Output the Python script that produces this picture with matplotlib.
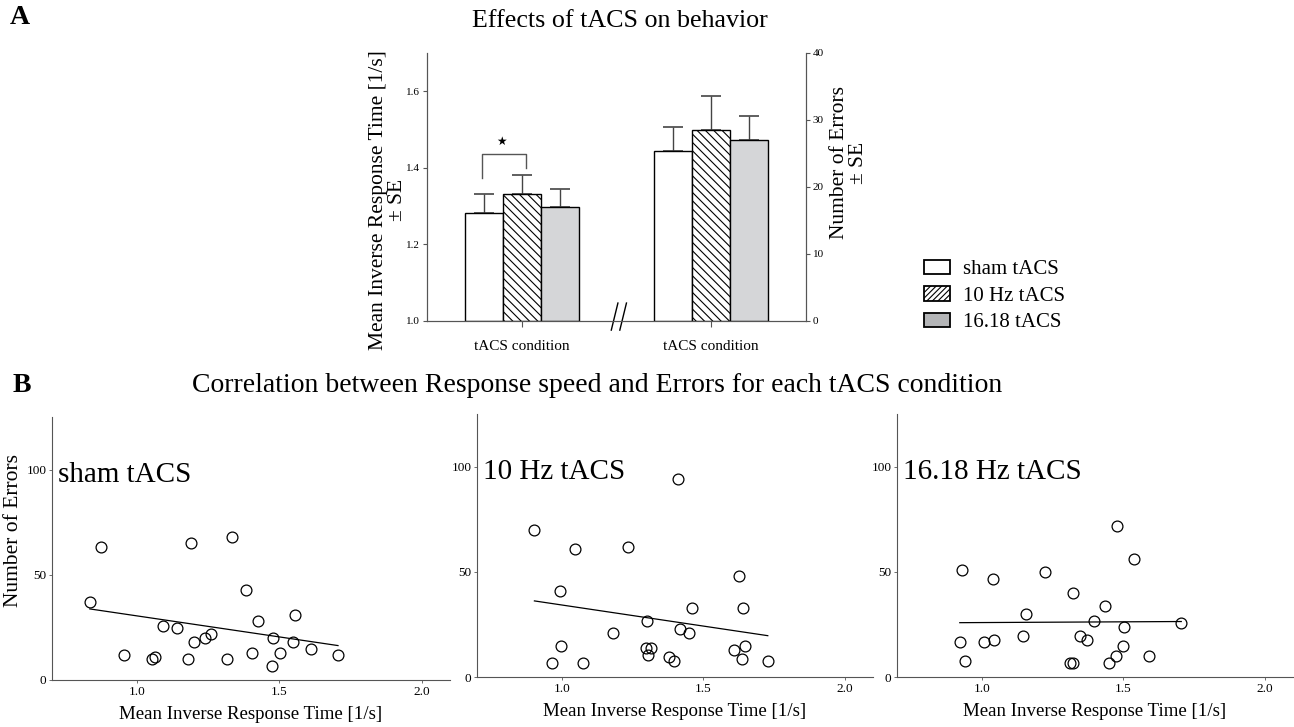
import numpy as np
import matplotlib.pyplot as plt
from matplotlib.patches import Patch

plt.rcParams['font.family'] = ['Liberation Serif', 'DejaVu Serif']
plt.rcParams['hatch.linewidth'] = 0.8

# panel A data
conditions = ['sham tACS', '10 Hz tACS', '16.18 tACS']
rt_mean = [1.283, 1.331, 1.299]
rt_se = [0.048, 0.051, 0.046]
err_mean = [25.3, 28.5, 27.0]
err_se = [3.7, 5.1, 3.6]
group_labels = ['tACS condition', 'tACS condition']

# panel B data: mean inverse RT vs number of errors
sham_x = [0.833, 0.871, 0.952, 1.053, 1.061, 1.089, 1.141, 1.178, 1.189, 1.201, 1.239, 1.261,
          1.314, 1.334, 1.384, 1.402, 1.424, 1.475, 1.478, 1.502, 1.549, 1.556, 1.610, 1.706]
sham_y = [37.0, 63.2, 11.9, 9.8, 11.0, 25.9, 24.9, 9.8, 65.1, 17.9, 20.0, 21.7,
          9.8, 68.1, 43.0, 12.9, 27.9, 6.8, 19.8, 12.9, 17.9, 31.0, 14.9, 11.9]
hz10_x = [0.903, 0.965, 0.995, 0.998, 1.047, 1.076, 1.182, 1.234, 1.296, 1.300, 1.303, 1.314,
          1.379, 1.396, 1.409, 1.417, 1.451, 1.460, 1.609, 1.625, 1.638, 1.641, 1.647, 1.728]
hz10_y = [70.0, 6.7, 41.0, 14.8, 61.0, 6.7, 20.8, 61.9, 13.8, 26.7, 10.6, 13.8,
          9.7, 7.8, 94.1, 22.9, 20.8, 32.9, 12.7, 47.9, 8.7, 32.9, 14.8, 7.8]
hz16_x = [0.922, 0.931, 0.941, 1.007, 1.039, 1.044, 1.146, 1.155, 1.223, 1.310, 1.323, 1.322,
          1.346, 1.373, 1.397, 1.435, 1.448, 1.474, 1.477, 1.499, 1.502, 1.537, 1.591, 1.705]
hz16_y = [16.7, 51.0, 7.8, 16.7, 46.8, 17.8, 19.7, 29.8, 49.8, 6.7, 6.7, 39.8,
          19.7, 17.8, 26.8, 33.8, 6.7, 9.8, 71.9, 14.8, 23.8, 55.9, 9.8, 25.9]
panel_names = ['sham tACS', '10 Hz tACS', '16.18 Hz tACS']

W, H = 1294, 727
fig = plt.figure(figsize=(W / 100, H / 100), dpi=100)

def px_axes(x0, y0, x1, y1):
    # pixel box (left, top, right, bottom) -> figure axes
    return fig.add_axes([x0 / W, 1 - y1 / H, (x1 - x0) / W, (y1 - y0) / H])

fills = ['white', 'white', '#d5d6d8']
hatches = ['', '\\\\\\\\', '']
gray = '#555555'

# ---- panel A ----
ax = px_axes(427, 53, 806, 321)
ax2 = ax.twinx()
ax.set_xlim(0, 4)
ax.set_ylim(1.0, 1.7)
ax2.set_ylim(0, 40)
w = 0.4
for i in range(3):
    ax.bar(1 + (i - 1) * w, rt_mean[i] - 1.0, w, bottom=1.0, color=fills[i],
           hatch=hatches[i], edgecolor='black', linewidth=1, zorder=2)
    ax.errorbar(1 + (i - 1) * w, rt_mean[i], yerr=[[0], [rt_se[i]]], color='#444444',
                ecolor='#444444', capsize=7, elinewidth=1, capthick=1.2, zorder=1)
    ax2.bar(3 + (i - 1) * w, err_mean[i], w, color=fills[i], hatch=hatches[i],
            edgecolor='black', linewidth=1, zorder=2)
    ax2.errorbar(3 + (i - 1) * w, err_mean[i], yerr=[[0], [err_se[i]]], color='#444444',
                 ecolor='#444444', capsize=7, elinewidth=1, capthick=1.2, zorder=1)

ax.set_yticks([1.0, 1.2, 1.4, 1.6])
ax.set_yticklabels(['1.0', '1.2', '1.4', '1.6'], fontsize=8)
ax2.set_yticks([0, 10, 20, 30, 40])
ax2.set_yticklabels(['0', '10', '20', '30', '40'], fontsize=8)
ax.set_xticks([1, 3])
ax.set_xticklabels(group_labels, fontsize=11)
for a in (ax, ax2):
    a.spines['top'].set_visible(False)
    for s in a.spines.values():
        s.set_color(gray)
    a.tick_params(length=3, width=0.8, color=gray, pad=2)
ax.tick_params(axis='x', length=4, pad=10)
ax.set_ylabel('Mean Inverse Response Time [1/s]\n± SE', fontsize=15.5, linespacing=1.0)
ax.yaxis.set_label_coords(-0.053, 0.45)
ax2.set_ylabel('Number of Errors\n± SE', fontsize=15.5, linespacing=1.0)
ax2.yaxis.set_label_coords(1.063, 0.59)

# significance bracket
ax.plot([0.58, 0.58, 1.05, 1.05], [1.373, 1.437, 1.437, 1.40], color=gray, lw=1, zorder=3)
ax.text(0.79, 1.468, '★', fontsize=8.5, ha='center', va='center', family='DejaVu Sans')

# axis break marks
for xb in (1.98, 2.07):
    ax.plot([xb - 0.035, xb + 0.035], [-0.034, 0.067], color='black', lw=1,
            transform=ax.get_xaxis_transform(), clip_on=False, zorder=5)

fig.text(472 / W, 1 - 21 / H, 'Effects of tACS on behavior', fontsize=18.7,
         ha='left', va='center')
fig.text(20 / W, 1 - 18 / H, 'A', fontsize=20, fontweight='bold', ha='center', va='center')
fig.text(22 / W, 1 - 385 / H, 'B', fontsize=20, fontweight='bold', ha='center', va='center')
fig.text(192 / W, 1 - 385 / H,
         'Correlation between Response speed and Errors for each tACS condition',
         fontsize=20, ha='left', va='center')

legend_handles = [
    Patch(facecolor='white', edgecolor='black', linewidth=1.3, label=conditions[0]),
    Patch(facecolor='white', edgecolor='black', hatch='//////', linewidth=1.3, label=conditions[1]),
    Patch(facecolor='#b4b5b7', edgecolor='black', linewidth=1.3, label=conditions[2]),
]
fig.legend(handles=legend_handles, loc='center left', bbox_to_anchor=(905 / W, 1 - 296 / H),
           frameon=False, fontsize=15, handlelength=1.25, handleheight=0.7,
           handletextpad=0.65, labelspacing=0.33)

# ---- panel B ----
boxes = [(52, 417, 450, 680), (477, 414, 873, 677), (897, 414, 1293, 677)]
data = [(sham_x, sham_y), (hz10_x, hz10_y), (hz16_x, hz16_y)]
for k in range(3):
    bx = px_axes(*boxes[k])
    x = np.array(data[k][0])
    y = np.array(data[k][1])
    bx.plot(x, y, 'o', mfc='none', mec='black', ms=7.8, mew=0.9)
    slope, icpt = np.polyfit(x, y, 1)
    xl = np.array([x.min(), x.max()])
    bx.plot(xl, slope * xl + icpt, color='black', lw=0.9)
    bx.set_xlim(0.7, 2.1)
    bx.set_ylim(0, 125)
    bx.set_xticks([1.0, 1.5, 2.0])
    bx.set_xticklabels(['1.0', '1.5', '2.0'], fontsize=9.5)
    bx.set_yticks([0, 50, 100])
    bx.set_yticklabels(['0', '50', '100'], fontsize=9.5)
    bx.spines['top'].set_visible(False)
    bx.spines['right'].set_visible(False)
    for s in bx.spines.values():
        s.set_color(gray)
    bx.tick_params(length=2, width=0.6, color=gray, pad=2)
    bx.set_xlabel('Mean Inverse Response Time [1/s]', fontsize=13.6, labelpad=6)
    bx.text(0.722, 97.5, panel_names[k], fontsize=21, ha='left', va='center')
    if k == 0:
        bx.set_ylabel('Number of Errors', fontsize=15.5)
        bx.yaxis.set_label_coords(-0.073, 0.567)

fig.savefig('out.png', dpi=100)
